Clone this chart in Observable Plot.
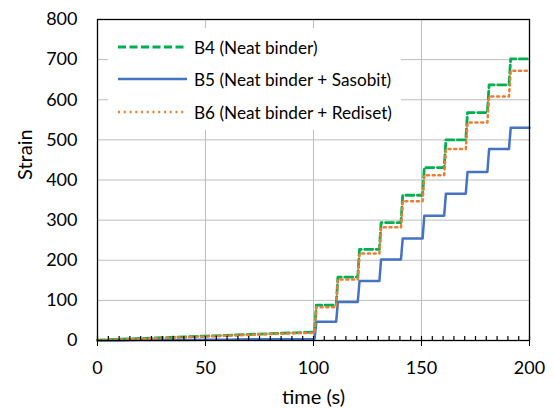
<!DOCTYPE html>
<html>
<head>
<meta charset="utf-8">
<script src="https://cdn.jsdelivr.net/npm/d3@7"></script>
<script src="https://cdn.jsdelivr.net/npm/@observablehq/plot@0.6"></script>
<style>
  html, body { margin: 0; padding: 0; background: #fff; }
  #wrap { position: relative; width: 554px; height: 408px; font-family: Lato, "Open Sans", sans-serif; }
  #legend { position: absolute; left: 108px; top: 28px; width: 293px; height: 102px; background: #fff; }
  .row { position: absolute; left: 10px; display: flex; align-items: center; font-size: 17.2px; color: #000; white-space: nowrap; }
  .row svg { margin-right: 7px; }
</style>
</head>
<body>
<div id="wrap"></div>
<script>
// ---- data ----
const seriesNames = ["B4 (Neat binder)", "B5 (Neat binder + Sasobit)", "B6 (Neat binder + Rediset)"];
const seriesColors = ["#00B050", "#4472C4", "#ED7D31"];
const earlyTimes = [0, 10, 20, 30, 40, 50, 60, 70, 80, 90, 100];
const b4Early = [1, 3, 5, 7, 9, 11, 13, 15, 17, 19, 21];
const b5Early = [0, 0, 1, 1, 1, 2, 2, 3, 3, 3, 4];
const b6Early = [0, 2, 4, 6, 8, 10, 12, 14, 16, 18, 19];
const stepTimes = [100.5, 110.5, 120.5, 130.5, 140.5, 150.5, 160.5, 170.5, 180.5, 190.5];
const b4Levels = [88, 158, 227, 294, 362, 431, 500, 568, 637, 702];
const b5Levels = [47, 96, 148, 202, 254, 311, 366, 420, 477, 530];
const b6Levels = [83, 152, 217, 282, 347, 412, 477, 543, 608, 672];
const xMax = 200;
const xTicks = [0, 50, 100, 150, 200];
const xMinorTicks = d3.range(0, 201, 5);
const yTicks = [0, 100, 200, 300, 400, 500, 600, 700, 800];

// ---- build line points from the arrays ----
const riseDur = 0.8;
function build(name, early, levels) {
  const pts = earlyTimes.map((t, i) => ({name, t, v: early[i]}));
  let prev = early[early.length - 1];
  stepTimes.forEach((t, i) => {
    pts.push({name, t, v: prev});
    pts.push({name, t: t + riseDur, v: levels[i]});
    prev = levels[i];
  });
  pts.push({name, t: xMax, v: prev});
  return pts;
}
const b4 = build(seriesNames[0], b4Early, b4Levels);
const b5 = build(seriesNames[1], b5Early, b5Levels);
const b6 = build(seriesNames[2], b6Early, b6Levels);

const chart = Plot.plot({
  width: 554,
  height: 408,
  marginLeft: 97,
  marginRight: 25,
  marginTop: 19,
  marginBottom: 68,
  style: {fontFamily: "Lato, 'Open Sans', sans-serif", fontSize: "18px", color: "#000", background: "#fff"},
  x: {domain: [0, 200]},
  y: {domain: [0, 800]},
  marks: [
    Plot.gridX(xTicks.slice(1, -1), {stroke: "#bdbdbd", strokeOpacity: 1, strokeWidth: 1}),
    Plot.gridY(yTicks.slice(1, -1), {stroke: "#bdbdbd", strokeOpacity: 1, strokeWidth: 1}),
    Plot.line(b5, {x: "t", y: "v", stroke: seriesColors[1], strokeWidth: 2.5}),
    Plot.line(b4, {x: "t", y: "v", stroke: seriesColors[0], strokeWidth: 2.8, strokeDasharray: "8,3.5"}),
    Plot.line(b6, {x: "t", y: "v", stroke: seriesColors[2], strokeWidth: 2.5, strokeDasharray: "2,3.75"}),
    Plot.frame({stroke: "#000", strokeWidth: 1.3}),
    Plot.ruleX(xMinorTicks, {x: d => d, y1: 0, y2: 10, stroke: "#000", strokeWidth: 1.2}),
    Plot.axisX({ticks: xTicks, tickSize: 6, tickPadding: 15, fontSize: 18, label: null, stroke: "#000"}),
    Plot.axisY({ticks: yTicks, tickSize: 0, tickPadding: 20, fontSize: 18, label: null}),
    Plot.text(["time (s)"], {frameAnchor: "bottom", lineAnchor: "middle", dy: 57, fontSize: 20, fill: "#000"}),
    Plot.text(["Strain"], {frameAnchor: "left", lineAnchor: "middle", dx: -72, rotate: -90, fontSize: 20, fill: "#000"})
  ]
});

const wrap = document.getElementById("wrap");
wrap.appendChild(chart);

// legend
const legend = document.createElement("div");
legend.id = "legend";
const dashes = ["8,3.5", null, "2,3.75"];
const widths = [2.8, 2.5, 2.5];
const rowTops = [19, 51, 84];
seriesNames.forEach((n, i) => {
  const row = document.createElement("div");
  row.className = "row";
  row.style.top = (rowTops[i] - 11) + "px";
  row.innerHTML = `<svg width="69" height="22"><line x1="0" x2="69" y1="11" y2="11" stroke="${seriesColors[i]}" stroke-width="${widths[i]}" ${dashes[i] ? `stroke-dasharray="${dashes[i]}"` : ""}/></svg><span>${n}</span>`;
  legend.appendChild(row);
});
wrap.appendChild(legend);
</script>
</body>
</html>
